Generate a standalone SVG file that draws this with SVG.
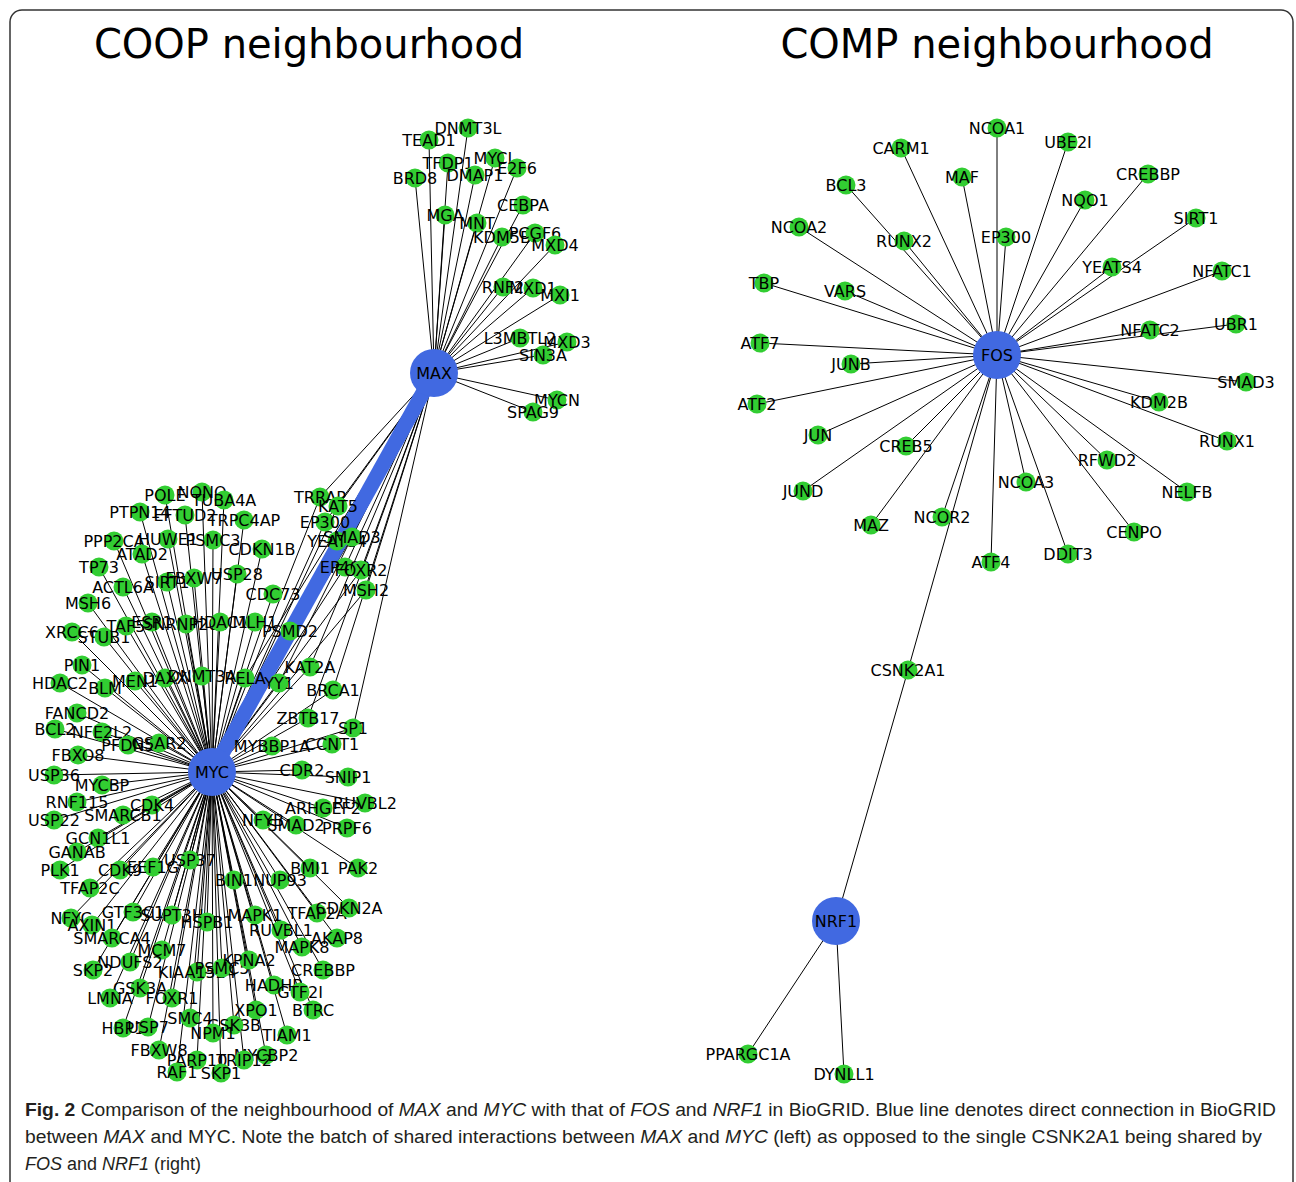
<svg xmlns="http://www.w3.org/2000/svg" width="1296" height="1182" viewBox="0 0 1296 1182">
<style>
.e{stroke:#000;stroke-width:1}
.b{stroke:#4169E1;stroke-width:15}
.g circle{fill:#32CD32}
.h circle{fill:#4169E1}
text.l{font-family:"DejaVu Sans",sans-serif;font-size:16px;text-anchor:middle;fill:#000}
.t{font-family:"DejaVu Sans",sans-serif;font-size:40px;text-anchor:middle;fill:#000}
.cap{font-family:"Liberation Sans",Arial,sans-serif;font-size:18px;fill:#231f20}
</style>
<rect x="10" y="10" width="1283" height="1190" rx="12" fill="#fff" stroke="#333" stroke-width="1.5"/>
<text class="t" x="309" y="58">COOP neighbourhood</text>
<text class="t" x="997" y="58">COMP neighbourhood</text>
<g id="edges">
<!-- MAX -->
<line class="e" x1="434" y1="373" x2="468" y2="128"/>
<line class="e" x1="434" y1="373" x2="429" y2="140"/>
<line class="e" x1="434" y1="373" x2="495" y2="158"/>
<line class="e" x1="434" y1="373" x2="448" y2="163"/>
<line class="e" x1="434" y1="373" x2="517" y2="168"/>
<line class="e" x1="434" y1="373" x2="475" y2="175"/>
<line class="e" x1="434" y1="373" x2="415" y2="178"/>
<line class="e" x1="434" y1="373" x2="523" y2="205"/>
<line class="e" x1="434" y1="373" x2="445" y2="215"/>
<line class="e" x1="434" y1="373" x2="477" y2="223"/>
<line class="e" x1="434" y1="373" x2="502" y2="237"/>
<line class="e" x1="434" y1="373" x2="535" y2="233"/>
<line class="e" x1="434" y1="373" x2="555" y2="245"/>
<line class="e" x1="434" y1="373" x2="503" y2="287"/>
<line class="e" x1="434" y1="373" x2="533" y2="288"/>
<line class="e" x1="434" y1="373" x2="560" y2="295"/>
<line class="e" x1="434" y1="373" x2="520" y2="338"/>
<line class="e" x1="434" y1="373" x2="567" y2="342"/>
<line class="e" x1="434" y1="373" x2="543" y2="355"/>
<line class="e" x1="434" y1="373" x2="557" y2="400"/>
<line class="e" x1="434" y1="373" x2="533" y2="412"/>
<line class="e" x1="434" y1="373" x2="320" y2="497"/>
<line class="e" x1="434" y1="373" x2="338" y2="506"/>
<line class="e" x1="434" y1="373" x2="325" y2="522"/>
<line class="e" x1="434" y1="373" x2="337" y2="541"/>
<line class="e" x1="434" y1="373" x2="352" y2="537"/>
<line class="e" x1="434" y1="373" x2="345" y2="567"/>
<line class="e" x1="434" y1="373" x2="361" y2="570"/>
<line class="e" x1="434" y1="373" x2="366" y2="590"/>
<line class="e" x1="434" y1="373" x2="245" y2="678"/>
<line class="e" x1="434" y1="373" x2="279" y2="683"/>
<line class="e" x1="434" y1="373" x2="310" y2="667"/>
<line class="e" x1="434" y1="373" x2="333" y2="690"/>
<line class="e" x1="434" y1="373" x2="308" y2="718"/>
<line class="e" x1="434" y1="373" x2="353" y2="728"/>
<!-- MYC -->
<line class="e" x1="212" y1="772" x2="320" y2="497"/>
<line class="e" x1="212" y1="772" x2="338" y2="506"/>
<line class="e" x1="212" y1="772" x2="325" y2="522"/>
<line class="e" x1="212" y1="772" x2="337" y2="541"/>
<line class="e" x1="212" y1="772" x2="352" y2="537"/>
<line class="e" x1="212" y1="772" x2="345" y2="567"/>
<line class="e" x1="212" y1="772" x2="361" y2="570"/>
<line class="e" x1="212" y1="772" x2="366" y2="590"/>
<line class="e" x1="212" y1="772" x2="245" y2="678"/>
<line class="e" x1="212" y1="772" x2="279" y2="683"/>
<line class="e" x1="212" y1="772" x2="310" y2="667"/>
<line class="e" x1="212" y1="772" x2="333" y2="690"/>
<line class="e" x1="212" y1="772" x2="308" y2="718"/>
<line class="e" x1="212" y1="772" x2="353" y2="728"/>
<line class="e" x1="212" y1="772" x2="202" y2="492"/>
<line class="e" x1="212" y1="772" x2="165" y2="495"/>
<line class="e" x1="212" y1="772" x2="224" y2="500"/>
<line class="e" x1="212" y1="772" x2="140" y2="512"/>
<line class="e" x1="212" y1="772" x2="185" y2="515"/>
<line class="e" x1="212" y1="772" x2="244" y2="520"/>
<line class="e" x1="212" y1="772" x2="114" y2="541"/>
<line class="e" x1="212" y1="772" x2="168" y2="539"/>
<line class="e" x1="212" y1="772" x2="213" y2="540"/>
<line class="e" x1="212" y1="772" x2="262" y2="549"/>
<line class="e" x1="212" y1="772" x2="142" y2="554"/>
<line class="e" x1="212" y1="772" x2="99" y2="567"/>
<line class="e" x1="212" y1="772" x2="167" y2="582"/>
<line class="e" x1="212" y1="772" x2="194" y2="578"/>
<line class="e" x1="212" y1="772" x2="237" y2="574"/>
<line class="e" x1="212" y1="772" x2="123" y2="587"/>
<line class="e" x1="212" y1="772" x2="273" y2="594"/>
<line class="e" x1="212" y1="772" x2="88" y2="603"/>
<line class="e" x1="212" y1="772" x2="72" y2="632"/>
<line class="e" x1="212" y1="772" x2="104" y2="637"/>
<line class="e" x1="212" y1="772" x2="126" y2="626"/>
<line class="e" x1="212" y1="772" x2="152" y2="622"/>
<line class="e" x1="212" y1="772" x2="186" y2="624"/>
<line class="e" x1="212" y1="772" x2="220" y2="622"/>
<line class="e" x1="212" y1="772" x2="255" y2="622"/>
<line class="e" x1="212" y1="772" x2="290" y2="631"/>
<line class="e" x1="212" y1="772" x2="82" y2="665"/>
<line class="e" x1="212" y1="772" x2="60" y2="683"/>
<line class="e" x1="212" y1="772" x2="105" y2="688"/>
<line class="e" x1="212" y1="772" x2="135" y2="681"/>
<line class="e" x1="212" y1="772" x2="165" y2="678"/>
<line class="e" x1="212" y1="772" x2="202" y2="676"/>
<line class="e" x1="212" y1="772" x2="77" y2="713"/>
<line class="e" x1="212" y1="772" x2="55" y2="729"/>
<line class="e" x1="212" y1="772" x2="102" y2="732"/>
<line class="e" x1="212" y1="772" x2="128" y2="745"/>
<line class="e" x1="212" y1="772" x2="159" y2="743"/>
<line class="e" x1="212" y1="772" x2="272" y2="746"/>
<line class="e" x1="212" y1="772" x2="332" y2="744"/>
<line class="e" x1="212" y1="772" x2="78" y2="755"/>
<line class="e" x1="212" y1="772" x2="54" y2="775"/>
<line class="e" x1="212" y1="772" x2="102" y2="785"/>
<line class="e" x1="212" y1="772" x2="302" y2="770"/>
<line class="e" x1="212" y1="772" x2="348" y2="777"/>
<line class="e" x1="212" y1="772" x2="77" y2="802"/>
<line class="e" x1="212" y1="772" x2="152" y2="805"/>
<line class="e" x1="212" y1="772" x2="123" y2="815"/>
<line class="e" x1="212" y1="772" x2="54" y2="820"/>
<line class="e" x1="212" y1="772" x2="365" y2="803"/>
<line class="e" x1="212" y1="772" x2="323" y2="808"/>
<line class="e" x1="212" y1="772" x2="263" y2="820"/>
<line class="e" x1="212" y1="772" x2="296" y2="825"/>
<line class="e" x1="212" y1="772" x2="347" y2="828"/>
<line class="e" x1="212" y1="772" x2="98" y2="838"/>
<line class="e" x1="212" y1="772" x2="77" y2="852"/>
<line class="e" x1="212" y1="772" x2="60" y2="870"/>
<line class="e" x1="212" y1="772" x2="120" y2="870"/>
<line class="e" x1="212" y1="772" x2="153" y2="867"/>
<line class="e" x1="212" y1="772" x2="190" y2="860"/>
<line class="e" x1="212" y1="772" x2="90" y2="888"/>
<line class="e" x1="212" y1="772" x2="234" y2="880"/>
<line class="e" x1="212" y1="772" x2="280" y2="880"/>
<line class="e" x1="212" y1="772" x2="310" y2="868"/>
<line class="e" x1="212" y1="772" x2="358" y2="868"/>
<line class="e" x1="212" y1="772" x2="71" y2="918"/>
<line class="e" x1="212" y1="772" x2="92" y2="925"/>
<line class="e" x1="212" y1="772" x2="133" y2="912"/>
<line class="e" x1="212" y1="772" x2="172" y2="915"/>
<line class="e" x1="212" y1="772" x2="207" y2="922"/>
<line class="e" x1="212" y1="772" x2="255" y2="915"/>
<line class="e" x1="212" y1="772" x2="317" y2="913"/>
<line class="e" x1="212" y1="772" x2="349" y2="908"/>
<line class="e" x1="212" y1="772" x2="112" y2="938"/>
<line class="e" x1="212" y1="772" x2="281" y2="930"/>
<line class="e" x1="212" y1="772" x2="337" y2="938"/>
<line class="e" x1="212" y1="772" x2="302" y2="947"/>
<line class="e" x1="212" y1="772" x2="162" y2="950"/>
<line class="e" x1="212" y1="772" x2="130" y2="962"/>
<line class="e" x1="212" y1="772" x2="93" y2="970"/>
<line class="e" x1="212" y1="772" x2="197" y2="972"/>
<line class="e" x1="212" y1="772" x2="222" y2="968"/>
<line class="e" x1="212" y1="772" x2="249" y2="960"/>
<line class="e" x1="212" y1="772" x2="323" y2="970"/>
<line class="e" x1="212" y1="772" x2="140" y2="988"/>
<line class="e" x1="212" y1="772" x2="274" y2="985"/>
<line class="e" x1="212" y1="772" x2="300" y2="992"/>
<line class="e" x1="212" y1="772" x2="110" y2="998"/>
<line class="e" x1="212" y1="772" x2="172" y2="998"/>
<line class="e" x1="212" y1="772" x2="256" y2="1010"/>
<line class="e" x1="212" y1="772" x2="313" y2="1010"/>
<line class="e" x1="212" y1="772" x2="190" y2="1018"/>
<line class="e" x1="212" y1="772" x2="123" y2="1028"/>
<line class="e" x1="212" y1="772" x2="148" y2="1027"/>
<line class="e" x1="212" y1="772" x2="234" y2="1025"/>
<line class="e" x1="212" y1="772" x2="213" y2="1033"/>
<line class="e" x1="212" y1="772" x2="287" y2="1035"/>
<line class="e" x1="212" y1="772" x2="159" y2="1050"/>
<line class="e" x1="212" y1="772" x2="266" y2="1055"/>
<line class="e" x1="212" y1="772" x2="244" y2="1060"/>
<line class="e" x1="212" y1="772" x2="197" y2="1060"/>
<line class="e" x1="212" y1="772" x2="177" y2="1072"/>
<line class="e" x1="212" y1="772" x2="221" y2="1073"/>
<!-- FOS -->
<line class="e" x1="997" y1="355" x2="997" y2="128"/>
<line class="e" x1="997" y1="355" x2="901" y2="148"/>
<line class="e" x1="997" y1="355" x2="1068" y2="142"/>
<line class="e" x1="997" y1="355" x2="1148" y2="174"/>
<line class="e" x1="997" y1="355" x2="846" y2="185"/>
<line class="e" x1="997" y1="355" x2="962" y2="177"/>
<line class="e" x1="997" y1="355" x2="1085" y2="200"/>
<line class="e" x1="997" y1="355" x2="1196" y2="218"/>
<line class="e" x1="997" y1="355" x2="799" y2="227"/>
<line class="e" x1="997" y1="355" x2="904" y2="241"/>
<line class="e" x1="997" y1="355" x2="1006" y2="237"/>
<line class="e" x1="997" y1="355" x2="1112" y2="267"/>
<line class="e" x1="997" y1="355" x2="1222" y2="271"/>
<line class="e" x1="997" y1="355" x2="764" y2="283"/>
<line class="e" x1="997" y1="355" x2="845" y2="291"/>
<line class="e" x1="997" y1="355" x2="1150" y2="330"/>
<line class="e" x1="997" y1="355" x2="1236" y2="324"/>
<line class="e" x1="997" y1="355" x2="760" y2="343"/>
<line class="e" x1="997" y1="355" x2="851" y2="364"/>
<line class="e" x1="997" y1="355" x2="1246" y2="382"/>
<line class="e" x1="997" y1="355" x2="757" y2="404"/>
<line class="e" x1="997" y1="355" x2="1159" y2="402"/>
<line class="e" x1="997" y1="355" x2="818" y2="435"/>
<line class="e" x1="997" y1="355" x2="906" y2="446"/>
<line class="e" x1="997" y1="355" x2="1227" y2="441"/>
<line class="e" x1="997" y1="355" x2="1107" y2="460"/>
<line class="e" x1="997" y1="355" x2="1026" y2="482"/>
<line class="e" x1="997" y1="355" x2="803" y2="491"/>
<line class="e" x1="997" y1="355" x2="1187" y2="492"/>
<line class="e" x1="997" y1="355" x2="871" y2="525"/>
<line class="e" x1="997" y1="355" x2="942" y2="517"/>
<line class="e" x1="997" y1="355" x2="1134" y2="532"/>
<line class="e" x1="997" y1="355" x2="1068" y2="554"/>
<line class="e" x1="997" y1="355" x2="991" y2="562"/>
<line class="e" x1="997" y1="355" x2="908" y2="670"/>
<!-- NRF1 -->
<line class="e" x1="836" y1="921" x2="908" y2="670"/>
<line class="e" x1="836" y1="921" x2="748" y2="1054"/>
<line class="e" x1="836" y1="921" x2="844" y2="1074"/>
<line id="e-MAX-MYC" class="b" x1="434" y1="373" x2="212" y2="772"/>
</g>
<!-- MAX-only nodes -->
<g id="n-DNMT3L" class="g"><circle cx="468" cy="128" r="9.5"/><text class="l" x="468" y="134">DNMT3L</text></g>
<g id="n-TEAD1" class="g"><circle cx="429" cy="140" r="9.5"/><text class="l" x="429" y="146">TEAD1</text></g>
<g id="n-MYCL" class="g"><circle cx="495" cy="158" r="9.5"/><text class="l" x="495" y="164">MYCL</text></g>
<g id="n-TFDP1" class="g"><circle cx="448" cy="163" r="9.5"/><text class="l" x="448" y="169">TFDP1</text></g>
<g id="n-E2F6" class="g"><circle cx="517" cy="168" r="9.5"/><text class="l" x="517" y="174">E2F6</text></g>
<g id="n-DMAP1" class="g"><circle cx="475" cy="175" r="9.5"/><text class="l" x="475" y="181">DMAP1</text></g>
<g id="n-BRD8" class="g"><circle cx="415" cy="178" r="9.5"/><text class="l" x="415" y="184">BRD8</text></g>
<g id="n-CEBPA" class="g"><circle cx="523" cy="205" r="9.5"/><text class="l" x="523" y="211">CEBPA</text></g>
<g id="n-MGA" class="g"><circle cx="445" cy="215" r="9.5"/><text class="l" x="445" y="221">MGA</text></g>
<g id="n-MNT" class="g"><circle cx="477" cy="223" r="9.5"/><text class="l" x="477" y="229">MNT</text></g>
<g id="n-KDM5B" class="g"><circle cx="502" cy="237" r="9.5"/><text class="l" x="502" y="243">KDM5B</text></g>
<g id="n-PCGF6" class="g"><circle cx="535" cy="233" r="9.5"/><text class="l" x="535" y="239">PCGF6</text></g>
<g id="n-MXD4" class="g"><circle cx="555" cy="245" r="9.5"/><text class="l" x="555" y="251">MXD4</text></g>
<g id="n-RNF2" class="g"><circle cx="503" cy="287" r="9.5"/><text class="l" x="503" y="293">RNF2</text></g>
<g id="n-MXD1" class="g"><circle cx="533" cy="288" r="9.5"/><text class="l" x="533" y="294">MXD1</text></g>
<g id="n-MXI1" class="g"><circle cx="560" cy="295" r="9.5"/><text class="l" x="560" y="301">MXI1</text></g>
<g id="n-L3MBTL2" class="g"><circle cx="520" cy="338" r="9.5"/><text class="l" x="520" y="344">L3MBTL2</text></g>
<g id="n-MXD3" class="g"><circle cx="567" cy="342" r="9.5"/><text class="l" x="567" y="348">MXD3</text></g>
<g id="n-SIN3A" class="g"><circle cx="543" cy="355" r="9.5"/><text class="l" x="543" y="361">SIN3A</text></g>
<g id="n-MYCN" class="g"><circle cx="557" cy="400" r="9.5"/><text class="l" x="557" y="406">MYCN</text></g>
<g id="n-SPAG9" class="g"><circle cx="533" cy="412" r="9.5"/><text class="l" x="533" y="418">SPAG9</text></g>
<!-- shared nodes -->
<g id="n-TRRAP" class="g"><circle cx="320" cy="497" r="9.5"/><text class="l" x="320" y="503">TRRAP</text></g>
<g id="n-KAT5" class="g"><circle cx="338" cy="506" r="9.5"/><text class="l" x="338" y="512">KAT5</text></g>
<g id="n-EP300" class="g"><circle cx="325" cy="522" r="9.5"/><text class="l" x="325" y="528">EP300</text></g>
<g id="n-YEATS4" class="g"><circle cx="337" cy="541" r="9.5"/><text class="l" x="337" y="547">YEATS4</text></g>
<g id="n-SMAD3" class="g"><circle cx="352" cy="537" r="9.5"/><text class="l" x="352" y="543">SMAD3</text></g>
<g id="n-EP400" class="g"><circle cx="345" cy="567" r="9.5"/><text class="l" x="345" y="573">EP400</text></g>
<g id="n-FOXR2" class="g"><circle cx="361" cy="570" r="9.5"/><text class="l" x="361" y="576">FOXR2</text></g>
<g id="n-MSH2" class="g"><circle cx="366" cy="590" r="9.5"/><text class="l" x="366" y="596">MSH2</text></g>
<g id="n-RELA" class="g"><circle cx="245" cy="678" r="9.5"/><text class="l" x="245" y="684">RELA</text></g>
<g id="n-YY1" class="g"><circle cx="279" cy="683" r="9.5"/><text class="l" x="279" y="689">YY1</text></g>
<g id="n-KAT2A" class="g"><circle cx="310" cy="667" r="9.5"/><text class="l" x="310" y="673">KAT2A</text></g>
<g id="n-BRCA1" class="g"><circle cx="333" cy="690" r="9.5"/><text class="l" x="333" y="696">BRCA1</text></g>
<g id="n-ZBTB17" class="g"><circle cx="308" cy="718" r="9.5"/><text class="l" x="308" y="724">ZBTB17</text></g>
<g id="n-SP1" class="g"><circle cx="353" cy="728" r="9.5"/><text class="l" x="353" y="734">SP1</text></g>
<!-- MYC-only nodes -->
<g id="n-NONO" class="g"><circle cx="202" cy="492" r="9.5"/><text class="l" x="202" y="498">NONO</text></g>
<g id="n-POLE" class="g"><circle cx="165" cy="495" r="9.5"/><text class="l" x="165" y="501">POLE</text></g>
<g id="n-TUBA4A" class="g"><circle cx="224" cy="500" r="9.5"/><text class="l" x="224" y="506">TUBA4A</text></g>
<g id="n-PTPN14" class="g"><circle cx="140" cy="512" r="9.5"/><text class="l" x="140" y="518">PTPN14</text></g>
<g id="n-EFTUD2" class="g"><circle cx="185" cy="515" r="9.5"/><text class="l" x="185" y="521">EFTUD2</text></g>
<g id="n-TRPC4AP" class="g"><circle cx="244" cy="520" r="9.5"/><text class="l" x="244" y="526">TRPC4AP</text></g>
<g id="n-PPP2CA" class="g"><circle cx="114" cy="541" r="9.5"/><text class="l" x="114" y="547">PPP2CA</text></g>
<g id="n-HUWE1" class="g"><circle cx="168" cy="539" r="9.5"/><text class="l" x="168" y="545">HUWE1</text></g>
<g id="n-PSMC3" class="g"><circle cx="213" cy="540" r="9.5"/><text class="l" x="213" y="546">PSMC3</text></g>
<g id="n-CDKN1B" class="g"><circle cx="262" cy="549" r="9.5"/><text class="l" x="262" y="555">CDKN1B</text></g>
<g id="n-ATAD2" class="g"><circle cx="142" cy="554" r="9.5"/><text class="l" x="142" y="560">ATAD2</text></g>
<g id="n-TP73" class="g"><circle cx="99" cy="567" r="9.5"/><text class="l" x="99" y="573">TP73</text></g>
<g id="n-SIRT1" class="g"><circle cx="167" cy="582" r="9.5"/><text class="l" x="167" y="588">SIRT1</text></g>
<g id="n-FBXW7" class="g"><circle cx="194" cy="578" r="9.5"/><text class="l" x="194" y="584">FBXW7</text></g>
<g id="n-USP28" class="g"><circle cx="237" cy="574" r="9.5"/><text class="l" x="237" y="580">USP28</text></g>
<g id="n-ACTL6A" class="g"><circle cx="123" cy="587" r="9.5"/><text class="l" x="123" y="593">ACTL6A</text></g>
<g id="n-CDC73" class="g"><circle cx="273" cy="594" r="9.5"/><text class="l" x="273" y="600">CDC73</text></g>
<g id="n-MSH6" class="g"><circle cx="88" cy="603" r="9.5"/><text class="l" x="88" y="609">MSH6</text></g>
<g id="n-XRCC6" class="g"><circle cx="72" cy="632" r="9.5"/><text class="l" x="72" y="638">XRCC6</text></g>
<g id="n-STUB1" class="g"><circle cx="104" cy="637" r="9.5"/><text class="l" x="104" y="643">STUB1</text></g>
<g id="n-TAF5" class="g"><circle cx="126" cy="626" r="9.5"/><text class="l" x="126" y="632">TAF5</text></g>
<g id="n-ESR1" class="g"><circle cx="152" cy="622" r="9.5"/><text class="l" x="152" y="628">ESR1</text></g>
<g id="n-SNRNP200" class="g"><circle cx="186" cy="624" r="9.5"/><text class="l" x="186" y="630">SNRNP200</text></g>
<g id="n-HDAC1" class="g"><circle cx="220" cy="622" r="9.5"/><text class="l" x="220" y="628">HDAC1</text></g>
<g id="n-MLH1" class="g"><circle cx="255" cy="622" r="9.5"/><text class="l" x="255" y="628">MLH1</text></g>
<g id="n-PSMD2" class="g"><circle cx="290" cy="631" r="9.5"/><text class="l" x="290" y="637">PSMD2</text></g>
<g id="n-PIN1" class="g"><circle cx="82" cy="665" r="9.5"/><text class="l" x="82" y="671">PIN1</text></g>
<g id="n-HDAC2" class="g"><circle cx="60" cy="683" r="9.5"/><text class="l" x="60" y="689">HDAC2</text></g>
<g id="n-BLM" class="g"><circle cx="105" cy="688" r="9.5"/><text class="l" x="105" y="694">BLM</text></g>
<g id="n-MEN1" class="g"><circle cx="135" cy="681" r="9.5"/><text class="l" x="135" y="687">MEN1</text></g>
<g id="n-DAXX" class="g"><circle cx="165" cy="678" r="9.5"/><text class="l" x="165" y="684">DAXX</text></g>
<g id="n-DNMT3A" class="g"><circle cx="202" cy="676" r="9.5"/><text class="l" x="202" y="682">DNMT3A</text></g>
<g id="n-FANCD2" class="g"><circle cx="77" cy="713" r="9.5"/><text class="l" x="77" y="719">FANCD2</text></g>
<g id="n-BCL2" class="g"><circle cx="55" cy="729" r="9.5"/><text class="l" x="55" y="735">BCL2</text></g>
<g id="n-NFE2L2" class="g"><circle cx="102" cy="732" r="9.5"/><text class="l" x="102" y="738">NFE2L2</text></g>
<g id="n-PFDN5" class="g"><circle cx="128" cy="745" r="9.5"/><text class="l" x="128" y="751">PFDN5</text></g>
<g id="n-GSAR2" class="g"><circle cx="159" cy="743" r="9.5"/><text class="l" x="159" y="749">GSAR2</text></g>
<g id="n-MYBBP1A" class="g"><circle cx="272" cy="746" r="9.5"/><text class="l" x="272" y="752">MYBBP1A</text></g>
<g id="n-CCNT1" class="g"><circle cx="332" cy="744" r="9.5"/><text class="l" x="332" y="750">CCNT1</text></g>
<g id="n-FBXO8" class="g"><circle cx="78" cy="755" r="9.5"/><text class="l" x="78" y="761">FBXO8</text></g>
<g id="n-USP36" class="g"><circle cx="54" cy="775" r="9.5"/><text class="l" x="54" y="781">USP36</text></g>
<g id="n-MYCBP" class="g"><circle cx="102" cy="785" r="9.5"/><text class="l" x="102" y="791">MYCBP</text></g>
<g id="n-CDR2" class="g"><circle cx="302" cy="770" r="9.5"/><text class="l" x="302" y="776">CDR2</text></g>
<g id="n-SNIP1" class="g"><circle cx="348" cy="777" r="9.5"/><text class="l" x="348" y="783">SNIP1</text></g>
<g id="n-RNF115" class="g"><circle cx="77" cy="802" r="9.5"/><text class="l" x="77" y="808">RNF115</text></g>
<g id="n-CDK4" class="g"><circle cx="152" cy="805" r="9.5"/><text class="l" x="152" y="811">CDK4</text></g>
<g id="n-SMARCB1" class="g"><circle cx="123" cy="815" r="9.5"/><text class="l" x="123" y="821">SMARCB1</text></g>
<g id="n-USP22" class="g"><circle cx="54" cy="820" r="9.5"/><text class="l" x="54" y="826">USP22</text></g>
<g id="n-RUVBL2" class="g"><circle cx="365" cy="803" r="9.5"/><text class="l" x="365" y="809">RUVBL2</text></g>
<g id="n-ARHGEF2" class="g"><circle cx="323" cy="808" r="9.5"/><text class="l" x="323" y="814">ARHGEF2</text></g>
<g id="n-NFYB" class="g"><circle cx="263" cy="820" r="9.5"/><text class="l" x="263" y="826">NFYB</text></g>
<g id="n-SMAD2" class="g"><circle cx="296" cy="825" r="9.5"/><text class="l" x="296" y="831">SMAD2</text></g>
<g id="n-PRPF6" class="g"><circle cx="347" cy="828" r="9.5"/><text class="l" x="347" y="834">PRPF6</text></g>
<g id="n-GCN1L1" class="g"><circle cx="98" cy="838" r="9.5"/><text class="l" x="98" y="844">GCN1L1</text></g>
<g id="n-GANAB" class="g"><circle cx="77" cy="852" r="9.5"/><text class="l" x="77" y="858">GANAB</text></g>
<g id="n-PLK1" class="g"><circle cx="60" cy="870" r="9.5"/><text class="l" x="60" y="876">PLK1</text></g>
<g id="n-CDK9" class="g"><circle cx="120" cy="870" r="9.5"/><text class="l" x="120" y="876">CDK9</text></g>
<g id="n-EEF1G" class="g"><circle cx="153" cy="867" r="9.5"/><text class="l" x="153" y="873">EEF1G</text></g>
<g id="n-USP37" class="g"><circle cx="190" cy="860" r="9.5"/><text class="l" x="190" y="866">USP37</text></g>
<g id="n-TFAP2C" class="g"><circle cx="90" cy="888" r="9.5"/><text class="l" x="90" y="894">TFAP2C</text></g>
<g id="n-BIN1" class="g"><circle cx="234" cy="880" r="9.5"/><text class="l" x="234" y="886">BIN1</text></g>
<g id="n-NUP93" class="g"><circle cx="280" cy="880" r="9.5"/><text class="l" x="280" y="886">NUP93</text></g>
<g id="n-BMI1" class="g"><circle cx="310" cy="868" r="9.5"/><text class="l" x="310" y="874">BMI1</text></g>
<g id="n-PAK2" class="g"><circle cx="358" cy="868" r="9.5"/><text class="l" x="358" y="874">PAK2</text></g>
<g id="n-NFYC" class="g"><circle cx="71" cy="918" r="9.5"/><text class="l" x="71" y="924">NFYC</text></g>
<g id="n-AXIN1" class="g"><circle cx="92" cy="925" r="9.5"/><text class="l" x="92" y="931">AXIN1</text></g>
<g id="n-GTF3C1" class="g"><circle cx="133" cy="912" r="9.5"/><text class="l" x="133" y="918">GTF3C1</text></g>
<g id="n-SUPT3H" class="g"><circle cx="172" cy="915" r="9.5"/><text class="l" x="172" y="921">SUPT3H</text></g>
<g id="n-HSPB1" class="g"><circle cx="207" cy="922" r="9.5"/><text class="l" x="207" y="928">HSPB1</text></g>
<g id="n-MAPK1" class="g"><circle cx="255" cy="915" r="9.5"/><text class="l" x="255" y="921">MAPK1</text></g>
<g id="n-TFAP2A" class="g"><circle cx="317" cy="913" r="9.5"/><text class="l" x="317" y="919">TFAP2A</text></g>
<g id="n-CDKN2A" class="g"><circle cx="349" cy="908" r="9.5"/><text class="l" x="349" y="914">CDKN2A</text></g>
<g id="n-SMARCA4" class="g"><circle cx="112" cy="938" r="9.5"/><text class="l" x="112" y="944">SMARCA4</text></g>
<g id="n-RUVBL1" class="g"><circle cx="281" cy="930" r="9.5"/><text class="l" x="281" y="936">RUVBL1</text></g>
<g id="n-AKAP8" class="g"><circle cx="337" cy="938" r="9.5"/><text class="l" x="337" y="944">AKAP8</text></g>
<g id="n-MAPK8" class="g"><circle cx="302" cy="947" r="9.5"/><text class="l" x="302" y="953">MAPK8</text></g>
<g id="n-MCM7" class="g"><circle cx="162" cy="950" r="9.5"/><text class="l" x="162" y="956">MCM7</text></g>
<g id="n-NDUFS2" class="g"><circle cx="130" cy="962" r="9.5"/><text class="l" x="130" y="968">NDUFS2</text></g>
<g id="n-SKP2" class="g"><circle cx="93" cy="970" r="9.5"/><text class="l" x="93" y="976">SKP2</text></g>
<g id="n-KIAA1524" class="g"><circle cx="197" cy="972" r="9.5"/><text class="l" x="197" y="978">KIAA1524</text></g>
<g id="n-PSMC5" class="g"><circle cx="222" cy="968" r="9.5"/><text class="l" x="222" y="974">PSMC5</text></g>
<g id="n-KPNA2" class="g"><circle cx="249" cy="960" r="9.5"/><text class="l" x="249" y="966">KPNA2</text></g>
<g id="n-CREBBP-L" class="g"><circle cx="323" cy="970" r="9.5"/><text class="l" x="323" y="976">CREBBP</text></g>
<g id="n-GSK3A" class="g"><circle cx="140" cy="988" r="9.5"/><text class="l" x="140" y="994">GSK3A</text></g>
<g id="n-HADHB" class="g"><circle cx="274" cy="985" r="9.5"/><text class="l" x="274" y="991">HADHB</text></g>
<g id="n-GTF2I" class="g"><circle cx="300" cy="992" r="9.5"/><text class="l" x="300" y="998">GTF2I</text></g>
<g id="n-LMNA" class="g"><circle cx="110" cy="998" r="9.5"/><text class="l" x="110" y="1004">LMNA</text></g>
<g id="n-FOXR1" class="g"><circle cx="172" cy="998" r="9.5"/><text class="l" x="172" y="1004">FOXR1</text></g>
<g id="n-XPO1" class="g"><circle cx="256" cy="1010" r="9.5"/><text class="l" x="256" y="1016">XPO1</text></g>
<g id="n-BTRC" class="g"><circle cx="313" cy="1010" r="9.5"/><text class="l" x="313" y="1016">BTRC</text></g>
<g id="n-SMC4" class="g"><circle cx="190" cy="1018" r="9.5"/><text class="l" x="190" y="1024">SMC4</text></g>
<g id="n-HBP1" class="g"><circle cx="123" cy="1028" r="9.5"/><text class="l" x="123" y="1034">HBP1</text></g>
<g id="n-USP7" class="g"><circle cx="148" cy="1027" r="9.5"/><text class="l" x="148" y="1033">USP7</text></g>
<g id="n-GSK3B" class="g"><circle cx="234" cy="1025" r="9.5"/><text class="l" x="234" y="1031">GSK3B</text></g>
<g id="n-NPM1" class="g"><circle cx="213" cy="1033" r="9.5"/><text class="l" x="213" y="1039">NPM1</text></g>
<g id="n-TIAM1" class="g"><circle cx="287" cy="1035" r="9.5"/><text class="l" x="287" y="1041">TIAM1</text></g>
<g id="n-FBXW8" class="g"><circle cx="159" cy="1050" r="9.5"/><text class="l" x="159" y="1056">FBXW8</text></g>
<g id="n-MYCBP2" class="g"><circle cx="266" cy="1055" r="9.5"/><text class="l" x="266" y="1061">MYCBP2</text></g>
<g id="n-TRIP12" class="g"><circle cx="244" cy="1060" r="9.5"/><text class="l" x="244" y="1066">TRIP12</text></g>
<g id="n-PARP10" class="g"><circle cx="197" cy="1060" r="9.5"/><text class="l" x="197" y="1066">PARP10</text></g>
<g id="n-RAF1" class="g"><circle cx="177" cy="1072" r="9.5"/><text class="l" x="177" y="1078">RAF1</text></g>
<g id="n-SKP1" class="g"><circle cx="221" cy="1073" r="9.5"/><text class="l" x="221" y="1079">SKP1</text></g>
<!-- FOS neighbourhood -->
<g id="n-NCOA1" class="g"><circle cx="997" cy="128" r="9.5"/><text class="l" x="997" y="134">NCOA1</text></g>
<g id="n-CARM1" class="g"><circle cx="901" cy="148" r="9.5"/><text class="l" x="901" y="154">CARM1</text></g>
<g id="n-UBE2I" class="g"><circle cx="1068" cy="142" r="9.5"/><text class="l" x="1068" y="148">UBE2I</text></g>
<g id="n-CREBBP" class="g"><circle cx="1148" cy="174" r="9.5"/><text class="l" x="1148" y="180">CREBBP</text></g>
<g id="n-BCL3" class="g"><circle cx="846" cy="185" r="9.5"/><text class="l" x="846" y="191">BCL3</text></g>
<g id="n-MAF" class="g"><circle cx="962" cy="177" r="9.5"/><text class="l" x="962" y="183">MAF</text></g>
<g id="n-NQO1" class="g"><circle cx="1085" cy="200" r="9.5"/><text class="l" x="1085" y="206">NQO1</text></g>
<g id="n-SIRT1-R" class="g"><circle cx="1196" cy="218" r="9.5"/><text class="l" x="1196" y="224">SIRT1</text></g>
<g id="n-NCOA2" class="g"><circle cx="799" cy="227" r="9.5"/><text class="l" x="799" y="233">NCOA2</text></g>
<g id="n-RUNX2" class="g"><circle cx="904" cy="241" r="9.5"/><text class="l" x="904" y="247">RUNX2</text></g>
<g id="n-EP300-R" class="g"><circle cx="1006" cy="237" r="9.5"/><text class="l" x="1006" y="243">EP300</text></g>
<g id="n-YEATS4-R" class="g"><circle cx="1112" cy="267" r="9.5"/><text class="l" x="1112" y="273">YEATS4</text></g>
<g id="n-NFATC1" class="g"><circle cx="1222" cy="271" r="9.5"/><text class="l" x="1222" y="277">NFATC1</text></g>
<g id="n-TBP" class="g"><circle cx="764" cy="283" r="9.5"/><text class="l" x="764" y="289">TBP</text></g>
<g id="n-VARS" class="g"><circle cx="845" cy="291" r="9.5"/><text class="l" x="845" y="297">VARS</text></g>
<g id="n-NFATC2" class="g"><circle cx="1150" cy="330" r="9.5"/><text class="l" x="1150" y="336">NFATC2</text></g>
<g id="n-UBR1" class="g"><circle cx="1236" cy="324" r="9.5"/><text class="l" x="1236" y="330">UBR1</text></g>
<g id="n-ATF7" class="g"><circle cx="760" cy="343" r="9.5"/><text class="l" x="760" y="349">ATF7</text></g>
<g id="n-JUNB" class="g"><circle cx="851" cy="364" r="9.5"/><text class="l" x="851" y="370">JUNB</text></g>
<g id="n-SMAD3-R" class="g"><circle cx="1246" cy="382" r="9.5"/><text class="l" x="1246" y="388">SMAD3</text></g>
<g id="n-ATF2" class="g"><circle cx="757" cy="404" r="9.5"/><text class="l" x="757" y="410">ATF2</text></g>
<g id="n-KDM2B" class="g"><circle cx="1159" cy="402" r="9.5"/><text class="l" x="1159" y="408">KDM2B</text></g>
<g id="n-JUN" class="g"><circle cx="818" cy="435" r="9.5"/><text class="l" x="818" y="441">JUN</text></g>
<g id="n-CREB5" class="g"><circle cx="906" cy="446" r="9.5"/><text class="l" x="906" y="452">CREB5</text></g>
<g id="n-RUNX1" class="g"><circle cx="1227" cy="441" r="9.5"/><text class="l" x="1227" y="447">RUNX1</text></g>
<g id="n-RFWD2" class="g"><circle cx="1107" cy="460" r="9.5"/><text class="l" x="1107" y="466">RFWD2</text></g>
<g id="n-NCOA3" class="g"><circle cx="1026" cy="482" r="9.5"/><text class="l" x="1026" y="488">NCOA3</text></g>
<g id="n-JUND" class="g"><circle cx="803" cy="491" r="9.5"/><text class="l" x="803" y="497">JUND</text></g>
<g id="n-NELFB" class="g"><circle cx="1187" cy="492" r="9.5"/><text class="l" x="1187" y="498">NELFB</text></g>
<g id="n-MAZ" class="g"><circle cx="871" cy="525" r="9.5"/><text class="l" x="871" y="531">MAZ</text></g>
<g id="n-NCOR2" class="g"><circle cx="942" cy="517" r="9.5"/><text class="l" x="942" y="523">NCOR2</text></g>
<g id="n-CENPO" class="g"><circle cx="1134" cy="532" r="9.5"/><text class="l" x="1134" y="538">CENPO</text></g>
<g id="n-DDIT3" class="g"><circle cx="1068" cy="554" r="9.5"/><text class="l" x="1068" y="560">DDIT3</text></g>
<g id="n-ATF4" class="g"><circle cx="991" cy="562" r="9.5"/><text class="l" x="991" y="568">ATF4</text></g>
<g id="n-CSNK2A1" class="g"><circle cx="908" cy="670" r="9.5"/><text class="l" x="908" y="676">CSNK2A1</text></g>
<g id="n-PPARGC1A" class="g"><circle cx="748" cy="1054" r="9.5"/><text class="l" x="748" y="1060">PPARGC1A</text></g>
<g id="n-DYNLL1" class="g"><circle cx="844" cy="1074" r="9.5"/><text class="l" x="844" y="1080">DYNLL1</text></g>
<!-- hubs -->
<g id="n-MAX" class="h"><circle cx="434" cy="373" r="24"/><text class="l" x="434" y="379">MAX</text></g>
<g id="n-MYC" class="h"><circle cx="212" cy="772" r="24"/><text class="l" x="212" y="778">MYC</text></g>
<g id="n-FOS" class="h"><circle cx="997" cy="355" r="24"/><text class="l" x="997" y="361">FOS</text></g>
<g id="n-NRF1" class="h"><circle cx="836" cy="921" r="24"/><text class="l" x="836" y="927">NRF1</text></g>
<g id="caption">
<text class="cap" x="25" y="1116" textLength="1251" lengthAdjust="spacingAndGlyphs"><tspan font-weight="bold">Fig. 2</tspan> Comparison of the neighbourhood of <tspan font-style="italic">MAX</tspan> and <tspan font-style="italic">MYC</tspan> with that of <tspan font-style="italic">FOS</tspan> and <tspan font-style="italic">NRF1</tspan> in BioGRID. Blue line denotes direct connection in BioGRID</text>
<text class="cap" x="25" y="1143" textLength="1237" lengthAdjust="spacingAndGlyphs">between <tspan font-style="italic">MAX</tspan> and MYC. Note the batch of shared interactions between <tspan font-style="italic">MAX</tspan> and <tspan font-style="italic">MYC</tspan> (left) as opposed to the single CSNK2A1 being shared by</text>
<text class="cap" x="25" y="1170"><tspan font-style="italic">FOS</tspan> and <tspan font-style="italic">NRF1</tspan> (right)</text>
</g>
</svg>
